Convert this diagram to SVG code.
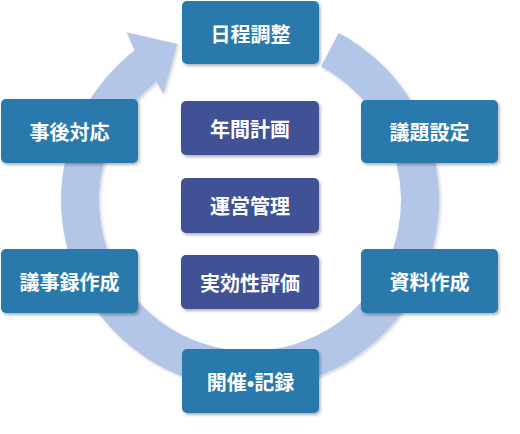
<svg xmlns="http://www.w3.org/2000/svg" width="520" height="434" viewBox="0 0 520 434">
<defs>
<filter id="sh" x="-10%" y="-10%" width="125%" height="130%">
<feDropShadow dx="1.5" dy="2" stdDeviation="1.5" flood-color="#000" flood-opacity="0.3"/>
</filter>
<filter id="ash" x="-10%" y="-10%" width="125%" height="125%">
<feDropShadow dx="1.5" dy="1.5" stdDeviation="1.5" flood-color="#000" flood-opacity="0.18"/>
</filter>
<style>
.n rect{fill:#2a79ac;filter:url(#sh)}
.c rect{fill:#3f5195;filter:url(#sh)}
text{fill:#fff;font-family:"Noto Sans CJK JP","Noto Sans CJK SC",sans-serif;font-size:20px;font-weight:bold;text-anchor:middle;dominant-baseline:central}
</style>
</defs>
<rect width="520" height="434" fill="#fff"/>
<g id="connectors">
<path d="M 338.7 33.1 A 189 189 0 1 1 134.5 50.5 L 126.7 32.3 L 177.3 44 L 163.3 94 L 156.5 81.5 A 151 151 0 1 0 320.9 66.7 Z" fill="#b3c6e7" filter="url(#ash)"/>
</g>
<g id="node-nittei" class="n"><rect x="182" y="1" width="137" height="63" rx="5"/><text x="250.5" y="33">日程調整</text></g>
<g id="node-gidai" class="n"><rect x="361" y="100" width="137" height="63" rx="5"/><text x="429.5" y="131.5">議題設定</text></g>
<g id="node-shiryo" class="n"><rect x="361" y="249" width="137" height="64" rx="5"/><text x="429.5" y="281">資料作成</text></g>
<g id="node-kaisai" class="n"><rect x="182" y="349" width="137" height="64" rx="5"/><text x="250.5" y="381">開催•記録</text></g>
<g id="node-gijiroku" class="n"><rect x="1" y="249" width="137" height="64" rx="5"/><text x="69.5" y="281">議事録作成</text></g>
<g id="node-jigo" class="n"><rect x="1" y="99" width="137" height="64" rx="5"/><text x="69.5" y="131">事後対応</text></g>
<g id="node-nenkan" class="c"><rect x="181" y="101" width="138" height="54" rx="5"/><text x="250" y="128">年間計画</text></g>
<g id="node-unei" class="c"><rect x="181" y="178" width="138" height="55" rx="5"/><text x="250" y="205.5">運営管理</text></g>
<g id="node-jikko" class="c"><rect x="181" y="255" width="138" height="54" rx="5"/><text x="250" y="282">実効性評価</text></g>
</svg>
